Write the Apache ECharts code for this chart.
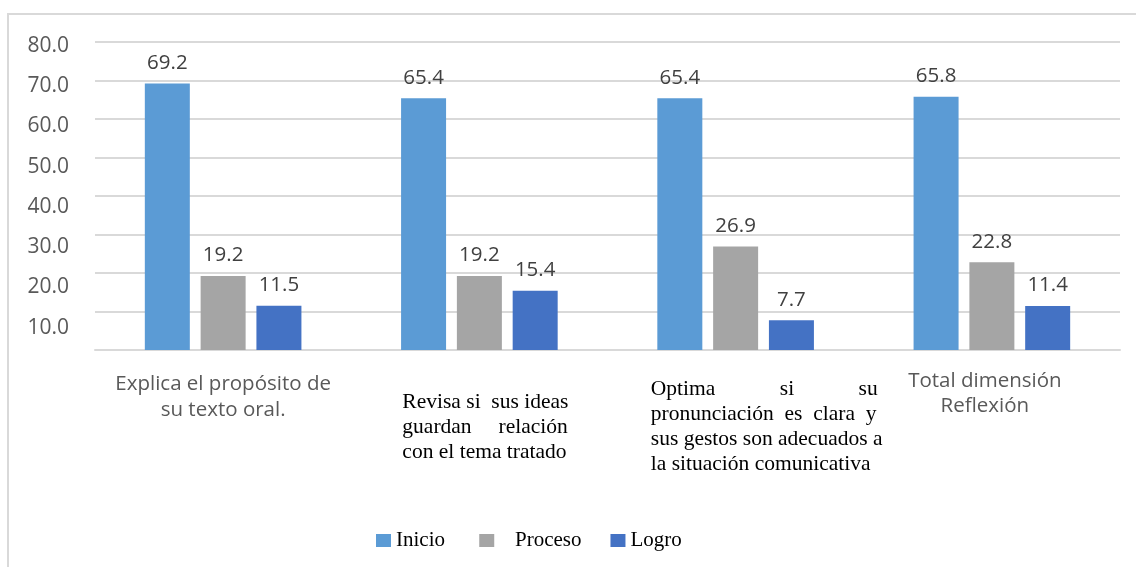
<!DOCTYPE html>
<html>
<head>
<meta charset="utf-8">
<title>Dimensión Reflexión</title>
<script src="https://cdn.jsdelivr.net/npm/echarts@6/dist/echarts.min.js"></script>
<style>
  html, body { margin: 0; padding: 0; background: #fff; }
  #chart { width: 1136px; height: 567px; }
</style>
</head>
<body>
<div id="chart"></div>
<script>
// datos del gráfico
const categories = [
  'Explica el propósito de su texto oral.',
  'Revisa si sus ideas guardan relación con el tema tratado',
  'Optima si su pronunciación es clara y sus gestos son adecuados a la situación comunicativa',
  'Total dimensión Reflexión'
]
// cortes de línea tal como aparecen en la figura
const categoryLines = [
  ['Explica el propósito de', 'su texto oral.'],
  ['Revisa si sus ideas', 'guardan relación', 'con el tema tratado'],
  ['Optima si su', 'pronunciación es clara y', 'sus gestos son adecuados a', 'la situación comunicativa'],
  ['Total dimensión', 'Reflexión']
]
const seriesNames = ['Inicio', 'Proceso', 'Logro']
const inicio = [69.2, 65.4, 65.4, 65.8]
const proceso = [19.2, 19.2, 26.9, 22.8]
const logro = [11.5, 15.4, 7.7, 11.4]
const yTicks = [0, 10, 20, 30, 40, 50, 60, 70, 80]

const colors = ['#5B9BD5', '#A5A5A5', '#4472C4']
const SERIF = '"Liberation Serif", "Times New Roman", serif'
const SANS = '"Open Sans", "Noto Sans", sans-serif'

// justificar una línea rellenando con espacios (como el texto justificado de Word)
const ctx = document.createElement('canvas').getContext('2d')
ctx.font = '21.5px "Liberation Serif"'
function justify(line, width) {
  const words = line.split(' ')
  if (words.length < 2) return line
  const spaceW = ctx.measureText(' ').width
  const total = words.reduce((s, w) => s + ctx.measureText(w).width, 0)
  const gap = (width - total) / (words.length - 1)
  let out = words[0]
  let err = 0
  for (let i = 1; i < words.length; i++) {
    const want = gap / spaceW + err
    const n = Math.max(1, Math.round(want))
    err = want - n
    out += ' '.repeat(n) + words[i]
  }
  return out
}

const justifyWidth = [0, 166, 225, 0]

function categoryLabel(value) {
  const i = categories.indexOf(value)
  const lines = categoryLines[i]
  if (i === 0) {
    return '{g1| }\n' + lines.map(l => '{s1|' + l + '}').join('\n')
  }
  if (i === 3) {
    return lines.map(l => '{s4|' + l + '}').join('\n')
  }
  const st = i === 1 ? 'r2' : 'r3'
  const g = i === 1 ? 'g2' : 'g3'
  return '{' + g + '| }\n' + lines.map((l, k) => {
    const txt = k < lines.length - 1 ? justify(l, justifyWidth[i]) : l
    return '{' + st + '|' + txt + '}'
  }).join('\n')
}

const chart = echarts.init(document.getElementById('chart'))

function initSeries(name, data, color) {
  return {
    name,
    data,
    type: 'bar',
    xAxisIndex: 0,
    yAxisIndex: 0,
    barWidth: 45,
    barGap: '24%',
    itemStyle: { color },
    label: {
      show: true,
      position: 'top',
      distance: 10,
      color: '#404040',
      fontFamily: SANS,
      fontSize: 20.5,
      formatter: p => p.value.toFixed(1)
    }
  }
}

const option = {
  animation: false,
  graphic: [{
    type: 'rect',
    shape: { x: 8, y: 14, width: 1200, height: 600 },
    style: { fill: 'none', stroke: '#D9D9D9', lineWidth: 2 },
    silent: true
  }],
  grid: [
    { left: 95, right: 16, top: 42, bottom: 217 },
    // rejilla auxiliar solo para las etiquetas del eje Y (desplazadas en el original)
    { left: 95, right: 16, top: 46, bottom: 199 }
  ],
  legend: {
    data: seriesNames,
    left: 376,
    top: 530,
    padding: 0,
    icon: 'rect',
    itemWidth: 15,
    itemHeight: 13,
    itemGap: 29,
    formatter: name => name === 'Proceso' ? '   Proceso' : (name === 'Inicio' ? 'Inicio ' : name),
    textStyle: {
      fontFamily: SERIF,
      fontSize: 21,
      color: '#000'
    }
  },
  xAxis: [{
    type: 'category',
    gridIndex: 0,
    data: categories,
    axisTick: { show: false },
    axisLine: { lineStyle: { color: '#D9D9D9', width: 2 } },
    axisLabel: {
      interval: 0,
      margin: 19,
      formatter: categoryLabel,
      rich: {
        s1: { fontFamily: SANS, fontSize: 20.5, color: '#595959', lineHeight: 26 },
        s4: { fontFamily: SANS, fontSize: 20.5, color: '#595959', lineHeight: 25, padding: [0, 14, 0, 0] },
        r2: { fontFamily: SERIF, fontSize: 21.5, color: '#000', lineHeight: 25, align: 'left', padding: [0, 0, 0, 12] },
        r3: { fontFamily: SERIF, fontSize: 21.5, color: '#000', lineHeight: 25, align: 'left', padding: [0, 0, 0, 62] },
        g1: { fontSize: 1, lineHeight: 2 },
        g2: { fontSize: 1, lineHeight: 21 },
        g3: { fontSize: 1, lineHeight: 8 }
      }
    }
  }, {
    type: 'value',
    gridIndex: 1,
    show: false,
    min: 0,
    max: 1
  }],
  yAxis: [{
    type: 'value',
    gridIndex: 0,
    min: yTicks[0],
    max: yTicks[yTicks.length - 1],
    interval: 10,
    axisLabel: { show: false },
    axisLine: { show: false },
    axisTick: { show: false },
    splitLine: { lineStyle: { color: '#D9D9D9', width: 2 } }
  }, {
    type: 'value',
    gridIndex: 1,
    min: yTicks[0],
    max: yTicks[yTicks.length - 1],
    interval: 10,
    axisLine: { show: false },
    axisTick: { show: false },
    splitLine: { show: false },
    axisLabel: {
      margin: 26,
      color: '#595959',
      fontFamily: SANS,
      fontSize: 21,
      formatter: v => v === 0 ? '' : v.toFixed(1)
    }
  }],
  series: [
    initSeries(seriesNames[0], inicio, colors[0]),
    initSeries(seriesNames[1], proceso, colors[1]),
    initSeries(seriesNames[2], logro, colors[2])
  ]
}

chart.setOption(option)
</script>
</body>
</html>
